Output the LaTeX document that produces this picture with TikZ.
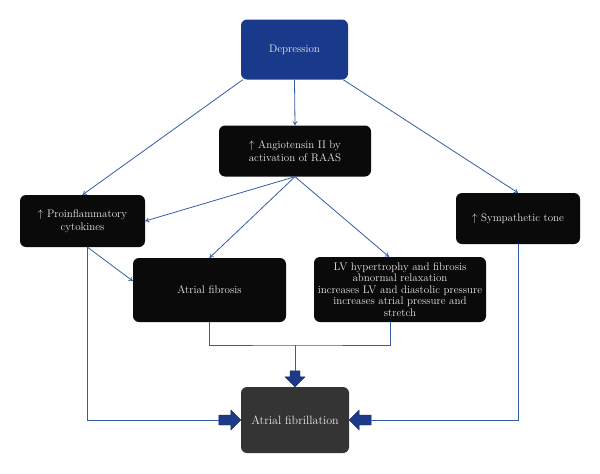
\documentclass[tikz,border=0pt]{standalone}
\usetikzlibrary{arrows.meta,calc}
\definecolor{depblue}{RGB}{25,58,138}
\definecolor{linkblue}{RGB}{52,92,165}
\definecolor{arrblue}{RGB}{28,58,135}
\definecolor{boxblack}{RGB}{10,10,10}
\definecolor{afgray}{RGB}{52,52,52}
\definecolor{txtgray}{RGB}{232,232,232}
\begin{document}
\begin{tikzpicture}[x=1pt,y=-1pt,
  box/.style={draw=none, fill=boxblack, rounded corners=6pt, text=txtgray, align=center, inner sep=2pt, font=\fontsize{11}{13}\selectfont},
  conn/.style={draw=linkblue, line width=0.8pt, -{To[length=4pt,width=5pt]}},
  plain/.style={draw=linkblue, line width=0.8pt},
  blockarr/.style={draw=arrblue!70!black, line width=0.4pt, fill=arrblue}
]
\useasboundingbox (0,0) rectangle (600,474);
\node[box, fill=depblue, minimum width=107pt, minimum height=60pt] (dep) at (294.5,49.5) {Depression};
\node[box, minimum width=152pt, minimum height=51pt] (ang) at (295,151) {$\uparrow$ Angiotensin II by\\activation of RAAS};
\node[box, minimum width=125pt, minimum height=52pt] (proinf) at (82.5,221) {$\uparrow$ Proinflammatory\\cytokines};
\node[box, minimum width=124pt, minimum height=51pt] (symp) at (518,218.5) {$\uparrow$ Sympathetic tone};
\node[box, minimum width=153pt, minimum height=64pt] (afib) at (209.5,290) {Atrial fibrosis};
\node[box, minimum width=172pt, minimum height=65pt, inner sep=0pt, font=\fontsize{11}{11.6}\selectfont] (lv) at (400,289.5) {LV hypertrophy and fibrosis\\abnormal relaxation\\increases LV and diastolic pressure\\increases atrial pressure and\\stretch};
\node[box, fill=afgray, minimum width=108pt, minimum height=66pt, font=\fontsize{12}{14}\selectfont] (af) at (295,420) {Atrial fibrillation};
% block arrows
\coordinate (blt) at ($(af.west)+(-22,0)$);
\coordinate (brt) at ($(af.east)+(22,0)$);
\coordinate (btt) at ($(af.north)+(0,-16)$);
\filldraw[blockarr] (af.west) -- ++(-10,-10) -- ++(0,5) -- ++(-12,0) -- ++(0,10) -- ++(12,0) -- ++(0,5) -- cycle;
\filldraw[blockarr] (af.east) -- ++(10,-10) -- ++(0,5) -- ++(12,0) -- ++(0,10) -- ++(-12,0) -- ++(0,5) -- cycle;
\filldraw[blockarr] (af.north) -- ++(-10,-10) -- ++(5,0) -- ++(0,-6) -- ++(10,0) -- ++(0,6) -- ++(5,0) -- cycle;
\coordinate (j) at (295,345);
\draw[conn] ([xshift=2pt]dep.south west) -- (proinf.north);
\draw[conn] ([xshift=-5pt]dep.south east) -- (symp.north);
\draw[conn] (dep.south) -- (ang.north);
\draw[conn] (ang.south) -- (proinf.east);
\draw[conn] (ang.south) -- (afib.north);
\draw[conn] (ang.south) -- ([xshift=-11pt]lv.north);
\draw[conn] ([xshift=5pt]proinf.south) -- ([yshift=9pt]afib.west);
\draw[plain] ([xshift=5pt]proinf.south) |- (blt);
\draw[plain] (symp.south) |- (brt);
\draw[plain] (afib.south) |- (j) -| ([xshift=-10pt]lv.south);
\draw[plain] (j) -- (btt);
\end{tikzpicture}
\end{document}
